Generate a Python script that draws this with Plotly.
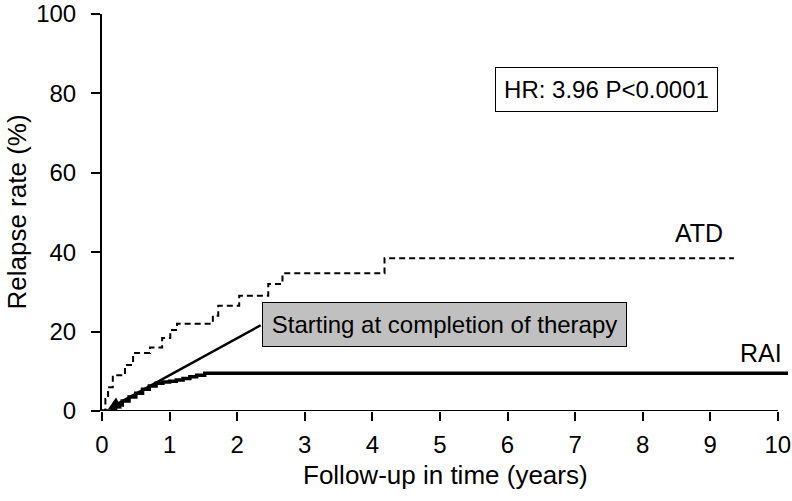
import plotly.graph_objects as go

# Kaplan-Meier style cumulative relapse
atd_years = [0, 0.05, 0.09, 0.16, 0.34, 0.46, 0.71, 0.89, 1.01, 1.11, 1.64, 1.72, 2.03, 2.46, 2.67, 4.18, 9.35]
atd_rate = [0, 3, 6, 9, 11.6, 14.6, 16, 18.4, 20.4, 22, 24, 26.5, 29, 32, 34.7, 38.5, 38.5]

rai_years = [0, 0.15, 0.2, 0.3, 0.4, 0.5, 0.6, 0.7, 0.8, 0.9, 1.0, 1.1, 1.2, 1.3, 1.4, 1.52, 10.15]
rai_rate = [0, 0.5, 1.5, 2.5, 3.5, 4.5, 5.5, 6.3, 7.0, 7.3, 7.5, 7.8, 8.2, 8.6, 9.0, 9.5, 9.5]

x_ticks = list(range(0, 11))
y_ticks = [0, 20, 40, 60, 80, 100]

FONT = "Liberation Sans, Arial, sans-serif"


def txt(size):
    return dict(size=size, color="black", family=FONT)


fig = go.Figure()

fig.add_trace(go.Scatter(
    x=atd_years, y=atd_rate,
    mode="lines", line_shape="hv",
    line=dict(color="black", width=2, dash="6px,4px"),
    name="ATD", showlegend=False,
))

fig.add_trace(go.Scatter(
    x=rai_years, y=rai_rate,
    mode="lines", line_shape="hv",
    line=dict(color="black", width=3.5),
    name="RAI", showlegend=False,
))

# x axis line stops at 10 while the RAI line runs a little past it
fig.add_shape(type="line", x0=0, x1=10, y0=0, y1=0, xref="x", yref="y",
              line=dict(color="black", width=2))

# arrow from the label box down to the origin
fig.add_annotation(x=0.09, y=0.5, ax=2.37, ay=21.8, axref="x", ayref="y",
                   text="", showarrow=True, arrowhead=2, arrowsize=1,
                   arrowwidth=2.5, arrowcolor="black")

fig.add_annotation(x=2.37, y=21.8, xanchor="left", yanchor="middle",
                   text="Starting at completion of therapy", showarrow=False,
                   font=txt(24), bgcolor="#c0c0c0", bordercolor="black",
                   borderwidth=1, borderpad=7, width=349, height=29)

fig.add_annotation(x=7.46, y=81, text="HR: 3.96 P&lt;0.0001", showarrow=False,
                   font=txt(24), bgcolor="white", bordercolor="black",
                   borderwidth=1, borderpad=7, width=207, height=29)

fig.add_annotation(x=8.84, y=44.8, text="ATD", showarrow=False, font=txt(25))
fig.add_annotation(x=9.75, y=14.6, text="RAI", showarrow=False, font=txt(25))

# axis titles as annotations so they do not push the margins
fig.add_annotation(x=0.5, y=0, xref="paper", yref="paper", yshift=-64,
                   text="Follow-up in time (years)", showarrow=False,
                   font=txt(26), yanchor="middle")
fig.add_annotation(x=0, y=0.5, xref="paper", yref="paper", xshift=-86,
                   text="Relapse rate (%)", showarrow=False, textangle=-90,
                   font=txt(26), xanchor="center")

fig.update_layout(
    width=792, height=501,
    margin=dict(l=102, r=4, t=14, b=90),
    plot_bgcolor="white", paper_bgcolor="white",
    font=txt(24),
    xaxis=dict(
        range=[0, 10.15], tickvals=x_ticks, showgrid=False, zeroline=False,
        showline=False, ticks="outside", ticklen=9, tickwidth=2, tickcolor="black",
        tickfont=txt(24), automargin=False, ticklabelstandoff=3,
    ),
    yaxis=dict(
        range=[0, 100], tickvals=y_ticks, showgrid=False, zeroline=False,
        showline=True, linecolor="black", linewidth=2,
        ticks="outside", ticklen=9, tickwidth=2, tickcolor="black",
        tickfont=txt(24), automargin=False, ticklabelstandoff=10,
    ),
)

# the default page body has an 8px margin; drop it so the figure fills the window
fig.write_html("out.html", config={"displayModeBar": False},
               post_script="document.body.style.margin = '0';")
